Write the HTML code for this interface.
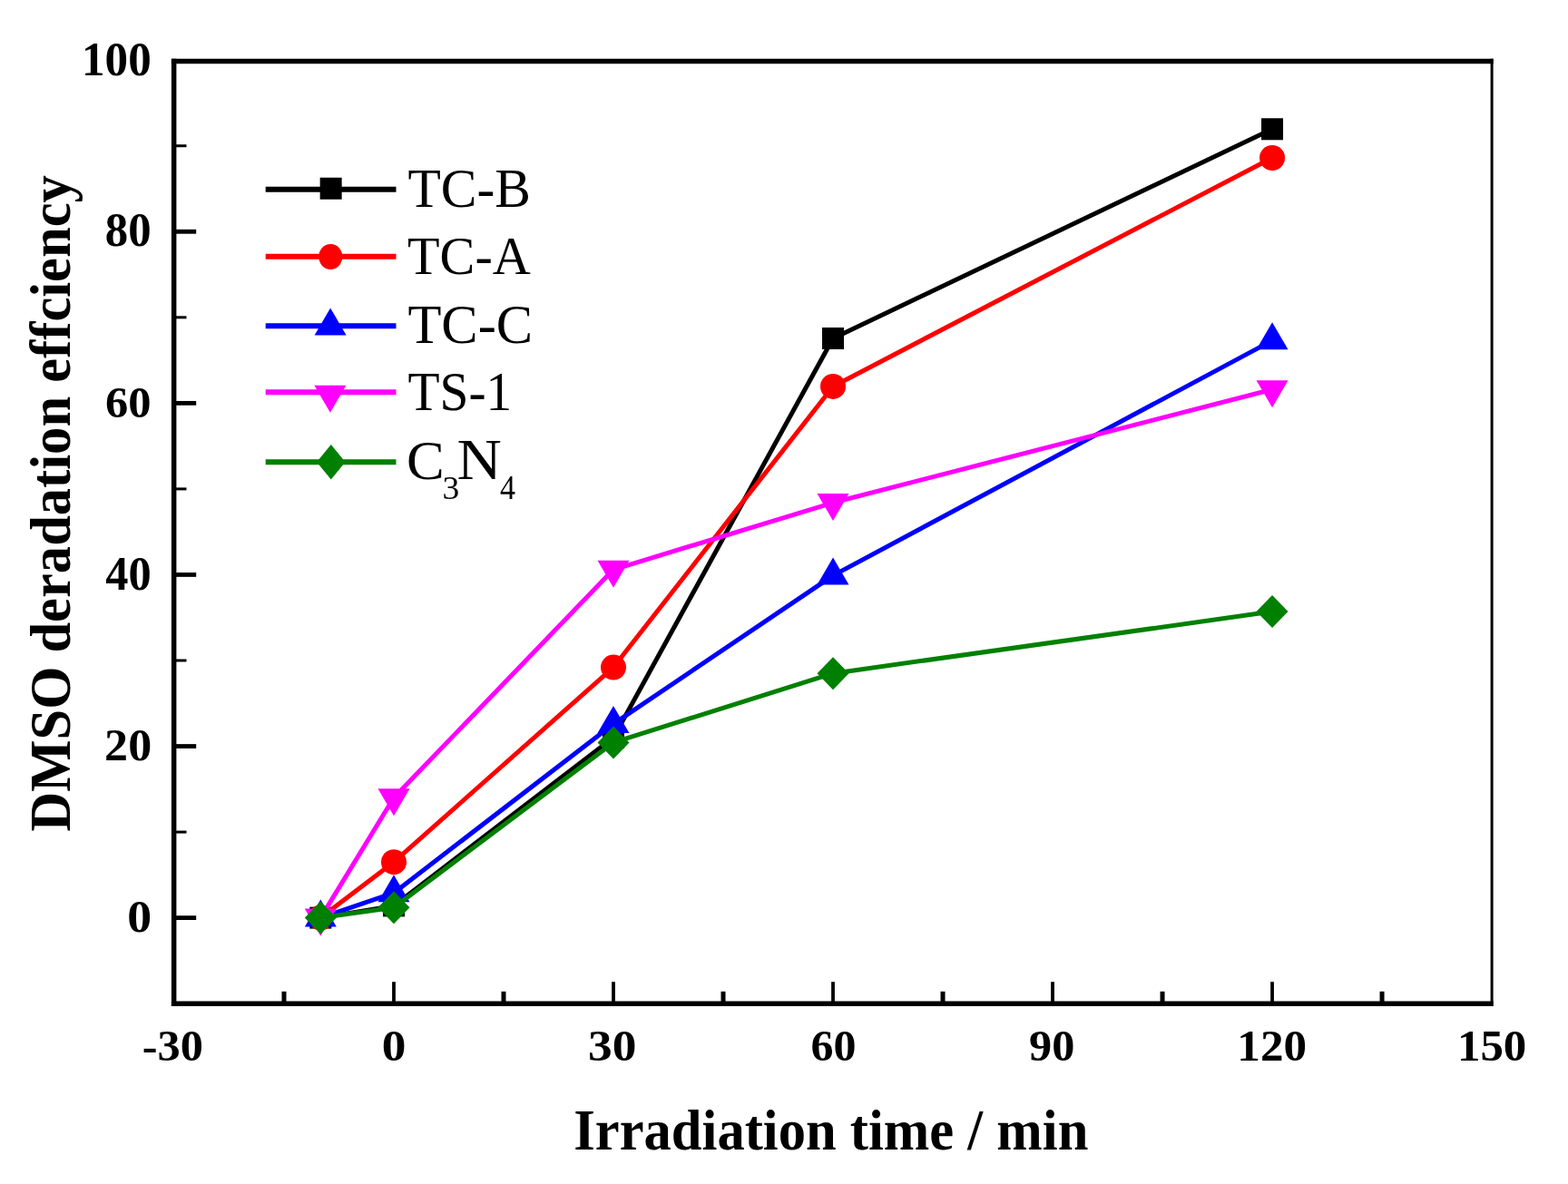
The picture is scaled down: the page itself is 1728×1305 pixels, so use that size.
<!DOCTYPE html>
<html><head><meta charset="utf-8"><title>DMSO degradation efficiency vs irradiation time</title>
<style>
html,body{margin:0;padding:0;background:#fff;}
body{width:1728px;height:1305px;overflow:hidden;}
svg{display:block;}
</style></head><body>
<svg width="1728" height="1305" viewBox="0 0 1728 1305">
<rect width="1728" height="1305" fill="#fff"/>
<rect x="191.65" y="67.50" width="1452.45" height="1038.75" fill="none" stroke="none"/>
<line x1="191.65" y1="64.75" x2="191.65" y2="1109.0" stroke="#000" stroke-width="5.5"/>
<line x1="188.9" y1="1106.25" x2="1645.6" y2="1106.25" stroke="#000" stroke-width="5.5"/>
<line x1="188.9" y1="67.5" x2="1645.6" y2="67.5" stroke="#000" stroke-width="5.5"/>
<line x1="1644.1" y1="64.75" x2="1644.1" y2="1109.0" stroke="#000" stroke-width="3"/>
<line x1="191.65" y1="1011.60" x2="216.2" y2="1011.60" stroke="#000" stroke-width="4.8"/>
<line x1="191.65" y1="822.52" x2="216.2" y2="822.52" stroke="#000" stroke-width="4.8"/>
<line x1="191.65" y1="633.44" x2="216.2" y2="633.44" stroke="#000" stroke-width="4.8"/>
<line x1="191.65" y1="444.36" x2="216.2" y2="444.36" stroke="#000" stroke-width="4.8"/>
<line x1="191.65" y1="255.28" x2="216.2" y2="255.28" stroke="#000" stroke-width="4.8"/>
<line x1="191.65" y1="917.06" x2="205.5" y2="917.06" stroke="#000" stroke-width="3"/>
<line x1="191.65" y1="727.98" x2="205.5" y2="727.98" stroke="#000" stroke-width="3"/>
<line x1="191.65" y1="538.90" x2="205.5" y2="538.90" stroke="#000" stroke-width="3"/>
<line x1="191.65" y1="349.82" x2="205.5" y2="349.82" stroke="#000" stroke-width="3"/>
<line x1="191.65" y1="160.74" x2="205.5" y2="160.74" stroke="#000" stroke-width="3"/>
<line x1="434.00" y1="1106.25" x2="434.00" y2="1082.2" stroke="#000" stroke-width="3.8"/>
<line x1="676.01" y1="1106.25" x2="676.01" y2="1082.2" stroke="#000" stroke-width="3.8"/>
<line x1="918.02" y1="1106.25" x2="918.02" y2="1082.2" stroke="#000" stroke-width="3.8"/>
<line x1="1160.03" y1="1106.25" x2="1160.03" y2="1082.2" stroke="#000" stroke-width="3.8"/>
<line x1="1402.04" y1="1106.25" x2="1402.04" y2="1082.2" stroke="#000" stroke-width="3.8"/>
<line x1="313.00" y1="1106.25" x2="313.00" y2="1092.8" stroke="#000" stroke-width="5"/>
<line x1="555.00" y1="1106.25" x2="555.00" y2="1092.8" stroke="#000" stroke-width="5"/>
<line x1="797.01" y1="1106.25" x2="797.01" y2="1092.8" stroke="#000" stroke-width="5"/>
<line x1="1039.03" y1="1106.25" x2="1039.03" y2="1092.8" stroke="#000" stroke-width="5"/>
<line x1="1281.03" y1="1106.25" x2="1281.03" y2="1092.8" stroke="#000" stroke-width="5"/>
<line x1="1523.05" y1="1106.25" x2="1523.05" y2="1092.8" stroke="#000" stroke-width="5"/>
<polyline points="353.33,1011.60 434.00,998.36 676.01,813.07 918.02,372.98 1402.04,142.30" fill="none" stroke="#000000" stroke-width="5" stroke-linejoin="round"/>
<rect x="341.33" y="999.60" width="24" height="24" fill="#000000"/>
<rect x="422.00" y="986.36" width="24" height="24" fill="#000000"/>
<rect x="664.01" y="801.07" width="24" height="24" fill="#000000"/>
<rect x="906.02" y="360.98" width="24" height="24" fill="#000000"/>
<rect x="1390.04" y="130.30" width="24" height="24" fill="#000000"/>
<polyline points="353.33,1011.60 434.00,950.15 676.01,735.54 918.02,425.92 1402.04,173.98" fill="none" stroke="#ff0000" stroke-width="5" stroke-linejoin="round"/>
<circle cx="353.33" cy="1011.60" r="14" fill="#ff0000"/>
<circle cx="434.00" cy="950.15" r="14" fill="#ff0000"/>
<circle cx="676.01" cy="735.54" r="14" fill="#ff0000"/>
<circle cx="918.02" cy="425.92" r="14" fill="#ff0000"/>
<circle cx="1402.04" cy="173.98" r="14" fill="#ff0000"/>
<polyline points="353.33,1011.60 434.00,984.18 676.01,797.94 918.02,634.39 1402.04,375.35" fill="none" stroke="#0000ff" stroke-width="5" stroke-linejoin="round"/>
<polygon points="353.33,991.60 370.83,1021.60 335.83,1021.60" fill="#0000ff"/>
<polygon points="434.00,964.18 451.50,994.18 416.50,994.18" fill="#0000ff"/>
<polygon points="676.01,777.94 693.51,807.94 658.51,807.94" fill="#0000ff"/>
<polygon points="918.02,614.39 935.52,644.39 900.52,644.39" fill="#0000ff"/>
<polygon points="1402.04,355.35 1419.54,385.35 1384.54,385.35" fill="#0000ff"/>
<polyline points="353.33,1011.60 434.00,879.24 676.01,627.77 918.02,554.03 1402.04,429.23" fill="none" stroke="#ff00ff" stroke-width="5" stroke-linejoin="round"/>
<polygon points="335.83,1001.60 370.83,1001.60 353.33,1031.60" fill="#ff00ff"/>
<polygon points="416.50,869.24 451.50,869.24 434.00,899.24" fill="#ff00ff"/>
<polygon points="658.51,617.77 693.51,617.77 676.01,647.77" fill="#ff00ff"/>
<polygon points="900.52,544.03 935.52,544.03 918.02,574.03" fill="#ff00ff"/>
<polygon points="1384.54,419.23 1419.54,419.23 1402.04,449.23" fill="#ff00ff"/>
<polyline points="353.33,1011.60 434.00,1000.26 676.01,818.45 918.02,742.16 1402.04,674.09" fill="none" stroke="#008000" stroke-width="5" stroke-linejoin="round"/>
<polygon points="353.33,993.60 370.83,1011.60 353.33,1029.60 335.83,1011.60" fill="#008000"/>
<polygon points="434.00,982.26 451.50,1000.26 434.00,1018.26 416.50,1000.26" fill="#008000"/>
<polygon points="676.01,800.45 693.51,818.45 676.01,836.45 658.51,818.45" fill="#008000"/>
<polygon points="918.02,724.16 935.52,742.16 918.02,760.16 900.52,742.16" fill="#008000"/>
<polygon points="1402.04,656.09 1419.54,674.09 1402.04,692.09 1384.54,674.09" fill="#008000"/>
<line x1="292.7" y1="208.7" x2="436.5" y2="208.7" stroke="#000000" stroke-width="6"/>
<rect x="352.65" y="195.75" width="24" height="24" fill="#000000"/>
<line x1="292.7" y1="282.8" x2="436.5" y2="282.8" stroke="#ff0000" stroke-width="6"/>
<ellipse cx="364.3" cy="283.0" rx="13" ry="14" fill="#ff0000"/>
<line x1="292.7" y1="359.2" x2="436.5" y2="359.2" stroke="#0000ff" stroke-width="6"/>
<polygon points="364.10,339.50 381.60,369.50 346.60,369.50" fill="#0000ff"/>
<line x1="292.7" y1="432.3" x2="436.5" y2="432.3" stroke="#ff00ff" stroke-width="6"/>
<polygon points="346.40,424.70 381.40,424.70 363.90,454.70" fill="#ff00ff"/>
<line x1="292.7" y1="509.2" x2="436.5" y2="509.2" stroke="#008000" stroke-width="6"/>
<polygon points="364.80,489.90 380.55,509.20 364.80,528.50 349.05,509.20" fill="#008000"/>
<text transform="matrix(0.51159 0 0 0.52148 90.01 82.98)" font-family="Liberation Serif, 'Times New Roman', serif" font-weight="bold" font-size="100">100</text>
<text transform="matrix(0.50811 0 0 0.52444 115.82 271.48)" font-family="Liberation Serif, 'Times New Roman', serif" font-weight="bold" font-size="100">80</text>
<text transform="matrix(0.50595 0 0 0.49333 116.03 460.11)" font-family="Liberation Serif, 'Times New Roman', serif" font-weight="bold" font-size="100">60</text>
<text transform="matrix(0.50476 0 0 0.52741 116.34 650.37)" font-family="Liberation Serif, 'Times New Roman', serif" font-weight="bold" font-size="100">40</text>
<text transform="matrix(0.52065 0 0 0.51111 115.12 838.39)" font-family="Liberation Serif, 'Times New Roman', serif" font-weight="bold" font-size="100">20</text>
<text transform="matrix(0.53810 0 0 0.49630 140.35 1027.00)" font-family="Liberation Serif, 'Times New Roman', serif" font-weight="bold" font-size="100">0</text>
<text transform="matrix(0.50397 0 0 0.49185 156.84 1169.01)" font-family="Liberation Serif, 'Times New Roman', serif" font-weight="bold" font-size="100">-30</text>
<text transform="matrix(0.53333 0 0 0.49185 420.87 1169.01)" font-family="Liberation Serif, 'Times New Roman', serif" font-weight="bold" font-size="100">0</text>
<text transform="matrix(0.53370 0 0 0.49185 648.07 1169.01)" font-family="Liberation Serif, 'Times New Roman', serif" font-weight="bold" font-size="100">30</text>
<text transform="matrix(0.50054 0 0 0.49185 893.55 1169.01)" font-family="Liberation Serif, 'Times New Roman', serif" font-weight="bold" font-size="100">60</text>
<text transform="matrix(0.50323 0 0 0.49185 1133.99 1169.01)" font-family="Liberation Serif, 'Times New Roman', serif" font-weight="bold" font-size="100">90</text>
<text transform="matrix(0.51159 0 0 0.49185 1363.31 1169.01)" font-family="Liberation Serif, 'Times New Roman', serif" font-weight="bold" font-size="100">120</text>
<text transform="matrix(0.50942 0 0 0.49185 1605.92 1169.01)" font-family="Liberation Serif, 'Times New Roman', serif" font-weight="bold" font-size="100">150</text>
<text transform="matrix(0.59502 0 0 0.61493 449.41 227.99)" font-family="Liberation Serif, 'Times New Roman', serif" font-weight="normal" font-size="100">TC-B</text>
<text transform="matrix(0.58221 0 0 0.60000 449.04 301.60)" font-family="Liberation Serif, 'Times New Roman', serif" font-weight="normal" font-size="100">TC-A</text>
<text transform="matrix(0.60499 0 0 0.61343 449.39 377.89)" font-family="Liberation Serif, 'Times New Roman', serif" font-weight="normal" font-size="100">TC-C</text>
<text transform="matrix(0.57396 0 0 0.60597 449.45 451.99)" font-family="Liberation Serif, 'Times New Roman', serif" font-weight="normal" font-size="100">TS-1</text>
<text transform="matrix(0.62632 0 0 0.61493 447.99 527.79)" font-family="Liberation Serif, 'Times New Roman', serif" font-weight="normal" font-size="100">C</text>
<text transform="matrix(0.37561 0 0 0.36119 487.52 549.84)" font-family="Liberation Serif, 'Times New Roman', serif" font-weight="normal" font-size="100">3</text>
<text transform="matrix(0.68358 0 0 0.62308 503.55 528.10)" font-family="Liberation Serif, 'Times New Roman', serif" font-weight="normal" font-size="100">N</text>
<text transform="matrix(0.33978 0 0 0.37538 551.12 550.19)" font-family="Liberation Serif, 'Times New Roman', serif" font-weight="normal" font-size="100">4</text>
<text transform="matrix(0.60602 0 0 0.63077 632.18 1267.20)" font-family="Liberation Serif, 'Times New Roman', serif" font-weight="bold" font-size="100">Irradiation time / min</text>
<text transform="matrix(0 -0.60579 0.62595 0 77.20 916.41)" font-family="Liberation Serif, 'Times New Roman', serif" font-weight="bold" font-size="100">DMSO deradation effciency</text>
</svg>
</body></html>
